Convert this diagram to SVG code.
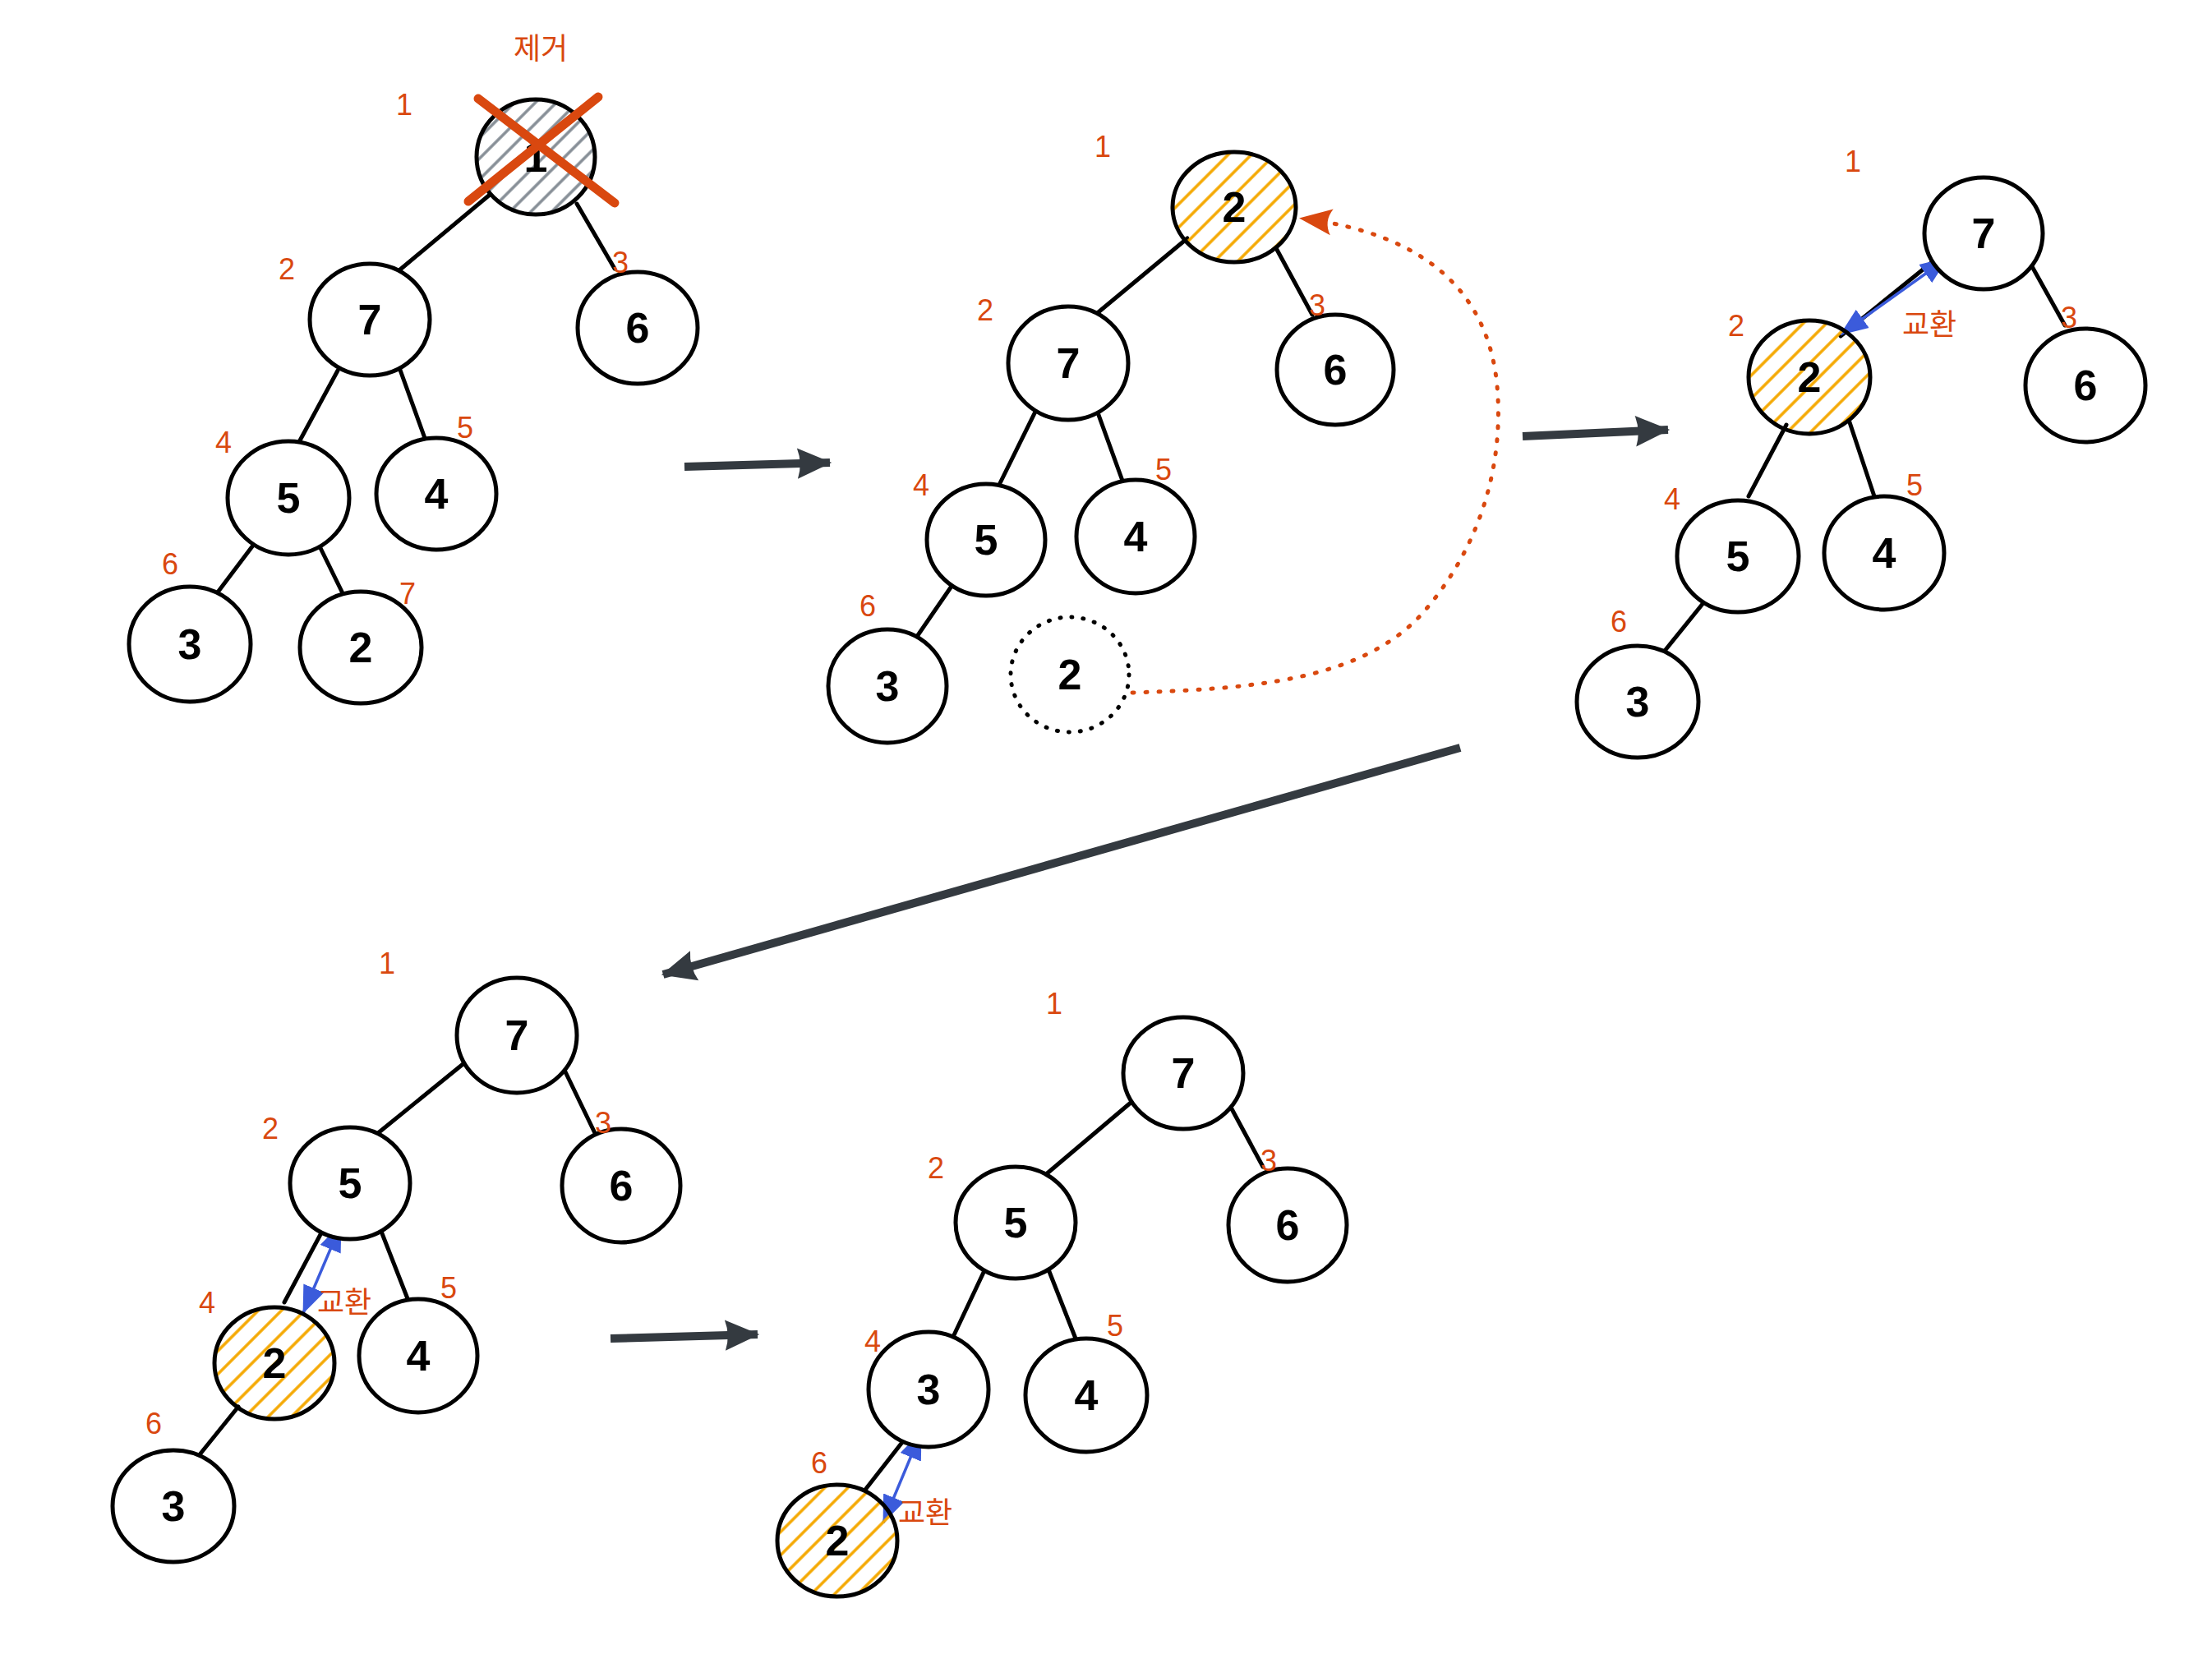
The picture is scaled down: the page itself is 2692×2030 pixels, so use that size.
<svg xmlns="http://www.w3.org/2000/svg" width="2692" height="2030" viewBox="0 0 2692 2030">
<style>
.n{fill:#fff;stroke:#000;stroke-width:5}
.ny{fill:url(#hy);stroke:#000;stroke-width:5}
.ng{fill:url(#hg);stroke:#000;stroke-width:5}
.nd{fill:none;stroke:#000;stroke-width:5;stroke-dasharray:1 13;stroke-linecap:round}
.t{font-family:"Liberation Sans","Noto Sans",sans-serif;font-size:52px;font-weight:bold;fill:#000;text-anchor:middle;dominant-baseline:central}
.l{font-family:"Liberation Sans","Noto Sans",sans-serif;font-size:36px;fill:#d9480f;text-anchor:middle;dominant-baseline:central}
.k{font-family:"Liberation Sans","Noto Sans CJK KR",sans-serif;font-size:36px;fill:#d9480f;text-anchor:middle;dominant-baseline:central}
.e{stroke:#000;stroke-width:5;stroke-linecap:round;fill:none}
.a{stroke:#343a40;stroke-width:10;fill:none;marker-end:url(#ad)}
.b{stroke:#3b5bdb;stroke-width:3.5;fill:none;marker-start:url(#bs);marker-end:url(#be)}
.x{stroke:#d9480f;stroke-width:11;stroke-linecap:round}
</style>
<defs>
<pattern id="hy" width="20" height="20" patternUnits="userSpaceOnUse" patternTransform="rotate(45)">
<line x1="10" y1="0" x2="10" y2="20" stroke="#f5a800" stroke-width="3.5"/>
</pattern>
<pattern id="hg" width="18" height="18" patternUnits="userSpaceOnUse" patternTransform="rotate(45)">
<line x1="9" y1="0" x2="9" y2="18" stroke="#868e96" stroke-width="3.5"/>
</pattern>
<marker id="ad" markerUnits="userSpaceOnUse" markerWidth="44" markerHeight="40" viewBox="0 0 40 36" refX="38" refY="18" orient="auto">
<path d="M2,1 L40,18 L2,35 Q8,18 2,1 z" fill="#343a40"/>
</marker>
<marker id="be" markerUnits="userSpaceOnUse" markerWidth="34" markerHeight="28" viewBox="0 0 30 24" refX="29" refY="12" orient="auto">
<path d="M0,0 L30,12 L0,24 z" fill="#3b5bdb"/>
</marker>
<marker id="bs" markerUnits="userSpaceOnUse" markerWidth="34" markerHeight="28" viewBox="0 0 30 24" refX="1" refY="12" orient="auto">
<path d="M30,0 L0,12 L30,24 z" fill="#3b5bdb"/>
</marker>
<marker id="ao" markerUnits="userSpaceOnUse" markerWidth="40" markerHeight="36" viewBox="0 0 40 36" refX="36" refY="18" orient="auto">
<path d="M0,2 L40,18 L0,34 Q10,18 0,2 z" fill="#d9480f"/>
</marker>
</defs>

<g id="connectors">
<!-- tree 1 -->
<line class="e" x1="596" y1="237" x2="487" y2="328"/>
<line class="e" x1="702" y1="248" x2="748" y2="327"/>
<line class="e" x1="411" y1="451" x2="365" y2="536"/>
<line class="e" x1="484" y1="442" x2="518" y2="536"/>
<line class="e" x1="307" y1="665" x2="264" y2="722"/>
<line class="e" x1="390" y1="667" x2="417" y2="722"/>
<!-- tree 2 -->
<line class="e" x1="1445" y1="290" x2="1333" y2="383"/>
<line class="e" x1="1553" y1="302" x2="1597" y2="383"/>
<line class="e" x1="1261" y1="499" x2="1217" y2="588"/>
<line class="e" x1="1333" y1="494" x2="1366" y2="585"/>
<line class="e" x1="1159" y1="712" x2="1115" y2="776"/>
<path d="M1378,843 C1520,838 1660,830 1735,742 C1805,660 1830,560 1822,470 C1812,360 1740,285 1585,266" fill="none" stroke="#d9480f" stroke-width="5" stroke-dasharray="2 14" stroke-linecap="round" marker-end="url(#ao)"/>
<!-- tree 3 -->
<line class="e" x1="2360" y1="312" x2="2240" y2="409"/>
<line class="e" x1="2470" y1="319" x2="2513" y2="396"/>
<line class="e" x1="2174" y1="517" x2="2128" y2="604"/>
<line class="e" x1="2250" y1="511" x2="2283" y2="610"/>
<line class="e" x1="2072" y1="735" x2="2026" y2="792"/>
<line class="b" x1="2240" y1="407" x2="2370" y2="314"/>
<!-- tree 4 -->
<line class="e" x1="577" y1="1284" x2="460" y2="1379"/>
<line class="e" x1="682" y1="1292" x2="724" y2="1379"/>
<line class="e" x1="395" y1="1493" x2="346" y2="1585"/>
<line class="e" x1="461" y1="1491" x2="497" y2="1583"/>
<line class="e" x1="290" y1="1712" x2="244" y2="1769"/>
<line class="b" x1="369" y1="1598" x2="415" y2="1490"/>
<!-- tree 5 -->
<line class="e" x1="1389" y1="1331" x2="1272" y2="1430"/>
<line class="e" x1="1496" y1="1344" x2="1537" y2="1420"/>
<line class="e" x1="1201" y1="1540" x2="1159" y2="1629"/>
<line class="e" x1="1274" y1="1540" x2="1309" y2="1629"/>
<line class="e" x1="1099" y1="1754" x2="1053" y2="1813"/>
<line class="b" x1="1075" y1="1853" x2="1121" y2="1743"/>
<!-- step arrows -->
<line class="a" x1="833" y1="568" x2="1010" y2="563"/>
<line class="a" x1="1853" y1="531" x2="2030" y2="523"/>
<line class="a" x1="1777" y1="910" x2="807" y2="1186"/>
<line class="a" x1="743" y1="1629" x2="922" y2="1624"/>
</g>

<!-- tree 1 -->
<g id="t1-root"><ellipse class="ng" cx="652" cy="191" rx="72" ry="70"/><text class="t" x="652" y="191">1</text>
<line class="x" x1="582" y1="120" x2="748" y2="247"/><line class="x" x1="728" y1="118" x2="570" y2="245"/></g>
<g id="t1-n7"><ellipse class="n" cx="450" cy="389" rx="73" ry="68"/><text class="t" x="450" y="389">7</text></g>
<g id="t1-n6"><ellipse class="n" cx="776" cy="399" rx="73" ry="68"/><text class="t" x="776" y="399">6</text></g>
<g id="t1-n5"><ellipse class="n" cx="351" cy="606" rx="74" ry="69"/><text class="t" x="351" y="606">5</text></g>
<g id="t1-n4"><ellipse class="n" cx="531" cy="601" rx="73" ry="68"/><text class="t" x="531" y="601">4</text></g>
<g id="t1-n3"><ellipse class="n" cx="231" cy="784" rx="74" ry="70"/><text class="t" x="231" y="784">3</text></g>
<g id="t1-n2"><ellipse class="n" cx="439" cy="788" rx="74" ry="68"/><text class="t" x="439" y="788">2</text></g>
<g id="t1-labels">
<text class="k" x="658" y="59">제거</text>
<text class="l" x="492" y="127">1</text><text class="l" x="349" y="327">2</text><text class="l" x="755" y="319">3</text>
<text class="l" x="272" y="538">4</text><text class="l" x="566" y="520">5</text><text class="l" x="207" y="686">6</text><text class="l" x="496" y="722">7</text>
</g>

<!-- tree 2 -->
<g id="t2-root"><ellipse class="ny" cx="1502" cy="252" rx="75" ry="67"/><text class="t" x="1502" y="252">2</text></g>
<g id="t2-n7"><ellipse class="n" cx="1300" cy="442" rx="73" ry="69"/><text class="t" x="1300" y="442">7</text></g>
<g id="t2-n6"><ellipse class="n" cx="1625" cy="450" rx="71" ry="67"/><text class="t" x="1625" y="450">6</text></g>
<g id="t2-n5"><ellipse class="n" cx="1200" cy="657" rx="72" ry="68"/><text class="t" x="1200" y="657">5</text></g>
<g id="t2-n4"><ellipse class="n" cx="1382" cy="653" rx="72" ry="69"/><text class="t" x="1382" y="653">4</text></g>
<g id="t2-n3"><ellipse class="n" cx="1080" cy="835" rx="72" ry="69"/><text class="t" x="1080" y="835">3</text></g>
<g id="t2-old2"><ellipse class="nd" cx="1302" cy="821" rx="72" ry="70"/><text class="t" x="1302" y="821">2</text></g>
<g id="t2-labels">
<text class="l" x="1342" y="178">1</text><text class="l" x="1199" y="377">2</text><text class="l" x="1603" y="371">3</text>
<text class="l" x="1121" y="590">4</text><text class="l" x="1416" y="571">5</text><text class="l" x="1056" y="737">6</text>
</g>

<!-- tree 3 -->
<g id="t3-root"><ellipse class="n" cx="2414" cy="284" rx="72" ry="68"/><text class="t" x="2414" y="284">7</text></g>
<g id="t3-n2"><ellipse class="ny" cx="2202" cy="459" rx="74" ry="69"/><text class="t" x="2202" y="459">2</text></g>
<g id="t3-n6"><ellipse class="n" cx="2538" cy="469" rx="73" ry="69"/><text class="t" x="2538" y="469">6</text></g>
<g id="t3-n5"><ellipse class="n" cx="2115" cy="677" rx="74" ry="68"/><text class="t" x="2115" y="677">5</text></g>
<g id="t3-n4"><ellipse class="n" cx="2293" cy="673" rx="73" ry="69"/><text class="t" x="2293" y="673">4</text></g>
<g id="t3-n3"><ellipse class="n" cx="1993" cy="854" rx="74" ry="68"/><text class="t" x="1993" y="854">3</text></g>
<g id="t3-labels">
<text class="l" x="2255" y="196">1</text><text class="l" x="2113" y="396">2</text><text class="l" x="2518" y="386">3</text>
<text class="l" x="2035" y="607">4</text><text class="l" x="2330" y="590">5</text><text class="l" x="1970" y="756">6</text>
<text class="k" x="2348" y="395">교환</text>
</g>

<!-- tree 4 -->
<g id="t4-root"><ellipse class="n" cx="629" cy="1260" rx="73" ry="70"/><text class="t" x="629" y="1260">7</text></g>
<g id="t4-n5"><ellipse class="n" cx="426" cy="1440" rx="73" ry="68"/><text class="t" x="426" y="1440">5</text></g>
<g id="t4-n6"><ellipse class="n" cx="756" cy="1443" rx="72" ry="69"/><text class="t" x="756" y="1443">6</text></g>
<g id="t4-n2"><ellipse class="ny" cx="334" cy="1659" rx="73" ry="68"/><text class="t" x="334" y="1659">2</text></g>
<g id="t4-n4"><ellipse class="n" cx="509" cy="1650" rx="72" ry="69"/><text class="t" x="509" y="1650">4</text></g>
<g id="t4-n3"><ellipse class="n" cx="211" cy="1833" rx="74" ry="68"/><text class="t" x="211" y="1833">3</text></g>
<g id="t4-labels">
<text class="l" x="471" y="1172">1</text><text class="l" x="329" y="1373">2</text><text class="l" x="734" y="1366">3</text>
<text class="l" x="252" y="1585">4</text><text class="l" x="546" y="1567">5</text><text class="l" x="187" y="1732">6</text>
<text class="k" x="419" y="1585">교환</text>
</g>

<!-- tree 5 -->
<g id="t5-root"><ellipse class="n" cx="1440" cy="1306" rx="73" ry="68"/><text class="t" x="1440" y="1306">7</text></g>
<g id="t5-n5"><ellipse class="n" cx="1236" cy="1488" rx="73" ry="68"/><text class="t" x="1236" y="1488">5</text></g>
<g id="t5-n6"><ellipse class="n" cx="1567" cy="1491" rx="72" ry="69"/><text class="t" x="1567" y="1491">6</text></g>
<g id="t5-n3"><ellipse class="n" cx="1130" cy="1691" rx="73" ry="70"/><text class="t" x="1130" y="1691">3</text></g>
<g id="t5-n4"><ellipse class="n" cx="1322" cy="1698" rx="74" ry="69"/><text class="t" x="1322" y="1698">4</text></g>
<g id="t5-n2"><ellipse class="ny" cx="1019" cy="1875" rx="73" ry="68"/><text class="t" x="1019" y="1875">2</text></g>
<g id="t5-labels">
<text class="l" x="1283" y="1221">1</text><text class="l" x="1139" y="1421">2</text><text class="l" x="1544" y="1412">3</text>
<text class="l" x="1062" y="1632">4</text><text class="l" x="1357" y="1613">5</text><text class="l" x="997" y="1780">6</text>
<text class="k" x="1126" y="1841">교환</text>
</g>
</svg>
